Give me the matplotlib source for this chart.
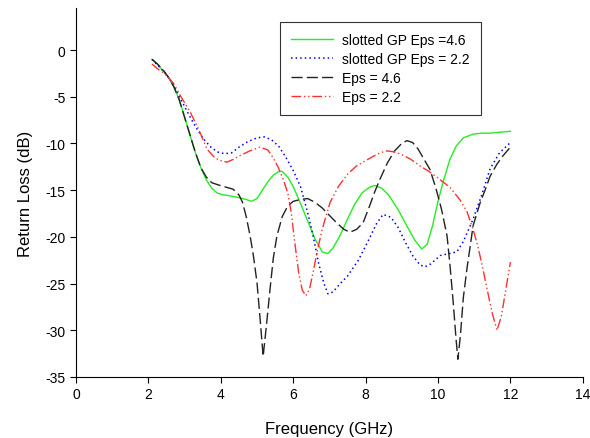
import matplotlib
matplotlib.use("Agg")
import matplotlib.pyplot as plt

plt.rcParams['font.family'] = ['Liberation Sans', 'DejaVu Sans']
plt.rcParams['axes.unicode_minus'] = False

# slotted GP, Eps = 4.6
f_green = [2.1, 2.25, 2.4, 2.55, 2.7, 2.85, 3.0, 3.15, 3.3, 3.45, 3.6, 3.75, 3.9, 4.05, 4.25,
           4.5, 4.7, 4.85, 5.0, 5.15, 5.3, 5.45, 5.6, 5.7, 5.85, 6.0, 6.2, 6.4, 6.6, 6.8, 6.95,
           7.1, 7.3, 7.5, 7.7, 7.9, 8.1, 8.25, 8.45, 8.65, 8.9, 9.15, 9.35, 9.55, 9.7, 9.85,
           10.0, 10.15, 10.33, 10.5, 10.7, 10.97, 11.2, 11.44, 11.7, 12.0]
db_green = [-1.0, -1.5, -2.2, -2.9, -3.9, -5.3, -7.2, -9.1, -11.0, -12.6, -13.9, -14.8, -15.3,
            -15.5, -15.6, -15.8, -16.0, -16.2, -15.9, -15.0, -14.1, -13.4, -13.0, -13.0, -13.6,
            -14.6, -16.4, -18.3, -20.2, -21.6, -21.8, -21.2, -19.8, -18.1, -16.5, -15.3, -14.7,
            -14.5, -14.8, -15.6, -17.1, -18.9, -20.3, -21.3, -20.8, -18.8, -16.2, -14.0, -11.7,
            -10.3, -9.4, -9.0, -8.9, -8.9, -8.8, -8.7]

# slotted GP, Eps = 2.2
f_blue = [2.1, 2.3, 2.5, 2.7, 2.9, 3.1, 3.3, 3.5, 3.7, 3.9, 4.1, 4.3, 4.5, 4.75, 5.0, 5.2,
          5.4, 5.6, 5.8, 6.0, 6.2, 6.4, 6.55, 6.7, 6.85, 6.96, 7.1, 7.3, 7.5, 7.8, 8.05, 8.3,
          8.48, 8.7, 8.9, 9.1, 9.3, 9.5, 9.64, 9.8, 10.06, 10.3, 10.52, 10.7, 10.97, 11.2, 11.44,
          11.7, 12.0]
db_blue = [-1.0, -1.8, -2.6, -3.8, -5.3, -6.8, -8.2, -9.4, -10.3, -10.9, -11.1, -11.0, -10.4,
           -9.8, -9.4, -9.3, -9.6, -10.3, -11.5, -12.9, -14.6, -17.4, -19.9, -22.8, -25.0, -26.1,
           -25.9, -25.0, -24.2, -22.5, -20.6, -18.6, -17.6, -17.9, -19.0, -20.6, -22.0, -23.0,
           -23.2, -22.9, -22.0, -21.8, -21.6, -20.5, -18.1, -15.6, -12.7, -11.0, -9.9]

# Eps = 4.6
f_black = [2.1, 2.25, 2.4, 2.55, 2.7, 2.85, 3.0, 3.15, 3.3, 3.45, 3.6, 3.75, 3.9, 4.07, 4.34,
           4.5, 4.6, 4.7, 4.81, 4.9, 5.0, 5.08, 5.17, 5.26, 5.36, 5.45, 5.55, 5.7, 5.85, 6.0,
           6.2, 6.4, 6.6, 6.8, 7.0, 7.2, 7.4, 7.57, 7.75, 7.93, 8.1, 8.25, 8.4, 8.6, 8.8, 9.0,
           9.14, 9.3, 9.45, 9.6, 9.78, 9.95, 10.1, 10.25, 10.33, 10.42, 10.5, 10.55, 10.62, 10.7,
           10.8, 10.97, 11.16, 11.3, 11.44, 11.63, 11.8, 12.0]
db_black = [-1.0, -1.5, -2.1, -2.9, -3.9, -5.3, -7.2, -9.1, -11.0, -12.6, -13.6, -14.2, -14.4,
            -14.6, -14.9, -15.5, -16.3, -17.8, -19.9, -22.0, -24.9, -28.5, -32.8, -29.5, -25.6,
            -22.3, -19.9, -17.8, -16.7, -16.2, -16.0, -15.9, -16.3, -16.9, -17.7, -18.5, -19.2,
            -19.5, -19.2, -18.5, -16.8, -15.2, -13.8, -12.1, -10.8, -10.0, -9.7, -9.9, -10.6,
            -11.6, -12.8, -14.9, -17.1, -19.9, -23.0, -27.0, -31.0, -33.1, -30.5, -26.5, -23.4,
            -18.8, -16.4, -15.0, -13.5, -12.2, -11.3, -10.4]

# Eps = 2.2
f_red = [2.1, 2.25, 2.4, 2.55, 2.7, 2.9, 3.15, 3.4, 3.62, 3.8, 3.95, 4.17, 4.35, 4.53, 4.8,
         5.08, 5.3, 5.44, 5.58, 5.72, 5.85, 5.95, 6.05, 6.15, 6.25, 6.35, 6.45, 6.55, 6.66,
         6.8, 7.02, 7.25, 7.5, 7.75, 7.93, 8.2, 8.4, 8.59, 8.8, 9.0, 9.25, 9.5, 9.75, 10.0,
         10.33, 10.6, 10.8, 10.97, 11.1, 11.24, 11.35, 11.5, 11.63, 11.75, 11.88, 12.0]
db_red = [-1.5, -2.0, -2.4, -2.9, -3.6, -5.0, -6.6, -8.6, -10.6, -11.4, -11.8, -12.0, -11.7,
          -11.3, -10.8, -10.4, -10.7, -11.5, -12.5, -13.8, -15.3, -17.5, -20.8, -23.8, -25.7,
          -26.3, -25.6, -23.8, -21.6, -19.2, -16.3, -14.6, -13.3, -12.4, -12.0, -11.4, -11.0,
          -10.8, -10.9, -11.2, -11.7, -12.4, -13.0, -13.7, -14.7, -16.0, -17.3, -19.2, -21.0,
          -23.4, -25.5, -28.2, -30.0, -28.5, -25.5, -22.7]

labels = ["slotted GP Eps =4.6", "slotted GP Eps = 2.2", "Eps = 4.6", "Eps = 2.2"]
x_ticks = [0, 2, 4, 6, 8, 10, 12, 14]
y_ticks = [0, -5, -10, -15, -20, -25, -30, -35]

fig = plt.figure(figsize=(5.9, 4.39), dpi=100)
ax = fig.add_axes([0.1288, 0.139, 0.859, 0.8405])

ax.plot(f_green, db_green, color='#22ee22', lw=1.0, label=labels[0])
ax.plot(f_blue, db_blue, color='#0000ff', lw=1.1, linestyle=(0, (1, 2)), label=labels[1])
ax.plot(f_black, db_black, color='#222222', lw=1.0, linestyle=(0, (8, 3)), label=labels[2])
ax.plot(f_red, db_red, color='#ff3030', lw=1.0, linestyle=(0, (7, 2, 1, 2, 1, 2)), label=labels[3])

ax.set_xlim(0, 14)
ax.set_ylim(-35, 4.5)
ax.set_xticks(x_ticks)
ax.set_yticks(y_ticks)
ax.tick_params(direction='out', length=4, width=0.8, labelsize=10, colors='black')
for s in ['top', 'right']:
    ax.spines[s].set_visible(False)
for s in ['left', 'bottom']:
    ax.spines[s].set_linewidth(0.8)

ax.set_xlabel("Frequency (GHz)", fontsize=12, labelpad=14)
ax.set_ylabel("Return Loss (dB)", fontsize=12, labelpad=9)

leg = ax.legend(loc='upper left', bbox_to_anchor=(0.4025, 0.962), fontsize=10,
                handlelength=3.0, handletextpad=0.7, labelspacing=0.35,
                frameon=True, fancybox=False, borderpad=0.8, borderaxespad=0)
leg.get_frame().set_edgecolor('black')
leg.get_frame().set_linewidth(0.8)

fig.savefig("out.png", dpi=100)
